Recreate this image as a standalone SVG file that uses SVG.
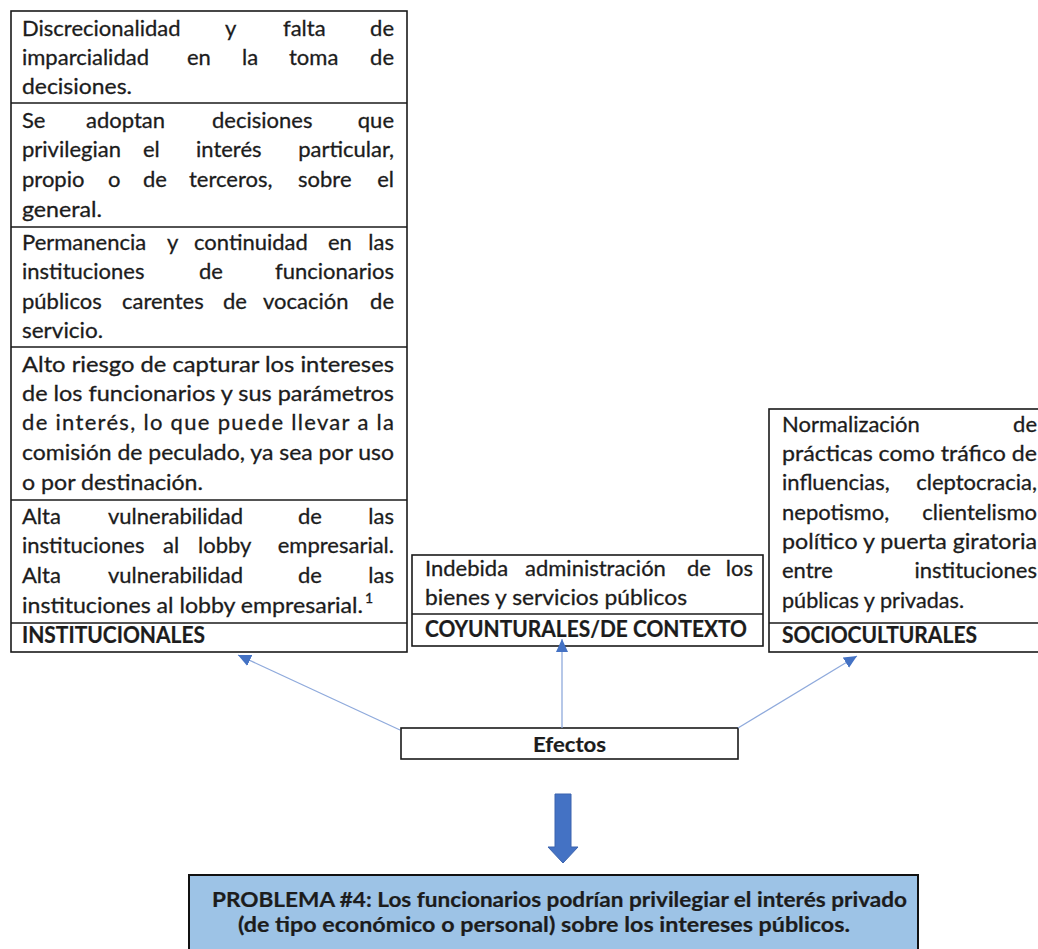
<svg xmlns="http://www.w3.org/2000/svg" width="1038" height="949" viewBox="0 0 1038 949">
<style>
.t{font-family:Lato,'Liberation Sans',sans-serif;font-size:22px;fill:#1c1c1c;stroke:#1c1c1c;stroke-width:0.3}
.b{font-weight:bold;stroke-width:0.2}
.e{text-anchor:end}
.box{fill:#fff;stroke:#1a1a1a;stroke-width:1.6}
.div{stroke:#1a1a1a;stroke-width:1.6}
.conn{stroke:#8FAADC;stroke-width:1.3;fill:none;marker-end:url(#ah)}
</style>
<defs>
<marker id="ah" markerUnits="userSpaceOnUse" markerWidth="14" markerHeight="12" viewBox="0 0 14 12" refX="13" refY="6" orient="auto">
<path d="M0,0 L13,6 L0,12 z" fill="#4472C4"/>
</marker>
</defs>
<rect width="1038" height="949" fill="#fff"/>

<g id="institucionales">
<rect class="box" x="11" y="11" width="396" height="641"/>
<line class="div" x1="11" y1="103" x2="407" y2="103"/>
<line class="div" x1="11" y1="227" x2="407" y2="227"/>
<line class="div" x1="11" y1="347" x2="407" y2="347"/>
<line class="div" x1="11" y1="500" x2="407" y2="500"/>
<line class="div" x1="11" y1="623" x2="407" y2="623"/>
<g id="inst-1" class="t">
<text x="22" y="36">Discrecionalidad</text><text x="225" y="36">y</text><text x="283" y="36">falta</text><text class="e" x="394" y="36">de</text>
<text x="22" y="65">imparcialidad</text><text x="187" y="65">en</text><text x="242" y="65">la</text><text x="289" y="65">toma</text><text class="e" x="394" y="65">de</text>
<text x="22" y="94" textLength="110" lengthAdjust="spacingAndGlyphs">decisiones.</text>
</g>
<g id="inst-2" class="t">
<text x="22" y="128">Se</text><text x="86" y="128">adoptan</text><text x="212" y="128">decisiones</text><text class="e" x="394" y="128">que</text>
<text x="22" y="157">privilegian</text><text x="143" y="157">el</text><text x="196" y="157">interés</text><text class="e" x="394" y="157">particular,</text>
<text x="22" y="187">propio</text><text x="108" y="187">o</text><text x="143" y="187">de</text><text x="189" y="187">terceros,</text><text x="298" y="187">sobre</text><text class="e" x="394" y="187">el</text>
<text x="22" y="217" textLength="80" lengthAdjust="spacingAndGlyphs">general.</text>
</g>
<g id="inst-3" class="t">
<text x="22" y="250">Permanencia</text><text x="167" y="250">y</text><text x="194" y="250">continuidad</text><text x="328" y="250">en</text><text class="e" x="394" y="250">las</text>
<text x="22" y="279">instituciones</text><text x="199" y="279">de</text><text class="e" x="394" y="279">funcionarios</text>
<text x="22" y="309">públicos</text><text x="122" y="309">carentes</text><text x="223" y="309">de</text><text x="263" y="309">vocación</text><text class="e" x="394" y="309">de</text>
<text x="22" y="338" textLength="81" lengthAdjust="spacingAndGlyphs">servicio.</text>
</g>
<g id="inst-4" class="t">
<text x="22" y="372" textLength="372" lengthAdjust="spacingAndGlyphs">Alto riesgo de capturar los intereses</text>
<text x="22" y="401" textLength="372" lengthAdjust="spacingAndGlyphs">de los funcionarios y sus parámetros</text>
<text x="22" y="430" textLength="372" lengthAdjust="spacing">de interés, lo que puede llevar a la</text>
<text x="22" y="460" textLength="372" lengthAdjust="spacingAndGlyphs">comisión de peculado, ya sea por uso</text>
<text x="22" y="490" textLength="181" lengthAdjust="spacingAndGlyphs">o por destinación.</text>
</g>
<g id="inst-5" class="t">
<text x="22" y="524">Alta</text><text x="108" y="524">vulnerabilidad</text><text x="298" y="524">de</text><text class="e" x="394" y="524">las</text>
<text x="22" y="553">instituciones</text><text x="163" y="553">al</text><text x="198" y="553">lobby</text><text class="e" x="394" y="553">empresarial.</text>
<text x="22" y="583">Alta</text><text x="108" y="583">vulnerabilidad</text><text x="298" y="583">de</text><text class="e" x="394" y="583">las</text>
<text x="22" y="613" textLength="341" lengthAdjust="spacingAndGlyphs">instituciones al lobby empresarial.</text><text x="365" y="603" style="font-size:14px">1</text>
</g>
<text class="t b" x="22" y="643" textLength="183" lengthAdjust="spacingAndGlyphs">INSTITUCIONALES</text>
</g>

<g id="coyunturales">
<rect class="box" x="412" y="555" width="351" height="91"/>
<line class="div" x1="412" y1="614" x2="763" y2="614"/>
<g class="t">
<text x="425" y="576">Indebida</text><text x="525" y="576">administración</text><text x="687" y="576">de</text><text class="e" x="753" y="576">los</text>
<text x="425" y="605" textLength="262" lengthAdjust="spacingAndGlyphs">bienes y servicios públicos</text>
<text class="b" x="425" y="637" textLength="322" lengthAdjust="spacingAndGlyphs">COYUNTURALES/DE CONTEXTO</text>
</g>
</g>

<g id="socioculturales">
<rect class="box" x="769" y="409" width="280" height="243"/>
<line class="div" x1="769" y1="623" x2="1049" y2="623"/>
<g class="t">
<text x="782" y="432">Normalización</text><text class="e" x="1037" y="432">de</text>
<text x="782" y="461" textLength="255" lengthAdjust="spacingAndGlyphs">prácticas como tráfico de</text>
<text x="782" y="490">influencias,</text><text class="e" x="1037" y="490">cleptocracia,</text>
<text x="782" y="520">nepotismo,</text><text class="e" x="1037" y="520">clientelismo</text>
<text x="782" y="549" textLength="255" lengthAdjust="spacingAndGlyphs">político y puerta giratoria</text>
<text x="782" y="578">entre</text><text class="e" x="1037" y="578">instituciones</text>
<text x="782" y="608" textLength="182" lengthAdjust="spacingAndGlyphs">públicas y privadas.</text>
<text class="b" x="782" y="643" textLength="195" lengthAdjust="spacingAndGlyphs">SOCIOCULTURALES</text>
</g>
</g>

<g id="efectos">
<rect class="box" x="401" y="728" width="337" height="31"/>
<text class="t b" x="533" y="752" textLength="73" lengthAdjust="spacingAndGlyphs" style="font-size:21px">Efectos</text>
</g>

<g id="connectors">
<line class="conn" x1="400" y1="730" x2="238" y2="655"/>
<line class="conn" x1="562" y1="728" x2="562" y2="639"/>
<line class="conn" x1="738" y1="728" x2="857" y2="656"/>
<polygon points="555,794 571,794 571,847 578,847 563,863 548,847 555,847" fill="#4472C4" stroke="#3B63AE" stroke-width="1"/>
</g>

<g id="problema">
<rect x="189" y="875" width="729" height="80" fill="#9DC3E6" stroke="#111" stroke-width="2"/>
<text class="t b" x="212" y="907" textLength="695" lengthAdjust="spacingAndGlyphs" style="font-size:20px">PROBLEMA #4: Los funcionarios podrían privilegiar el interés privado</text>
<text class="t b" x="238" y="932" textLength="612" lengthAdjust="spacingAndGlyphs" style="font-size:20px">(de tipo económico o personal) sobre los intereses públicos.</text>
</g>
</svg>
